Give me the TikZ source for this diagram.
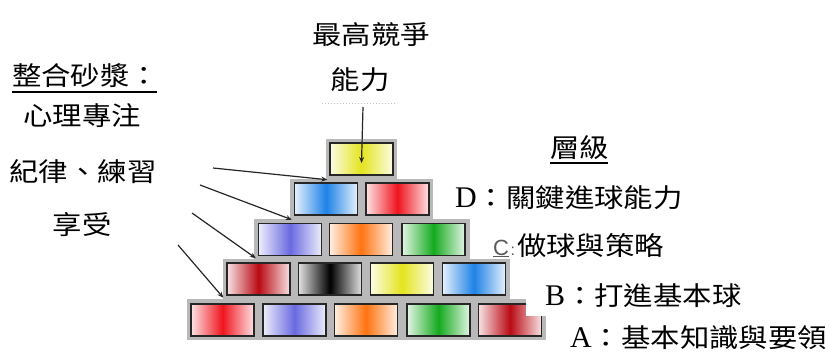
\documentclass[tikz,border=0pt]{standalone}
\usepackage{fontspec}
\setmainfont{Liberation Serif}
\newfontfamily\cjk[FakeStretch=1.13]{Noto Sans CJK TC}
\newfontfamily\sanslat{Liberation Sans}
\usetikzlibrary{arrows.meta}
\newcommand{\lat}[1]{{\fontsize{30}{30}\selectfont\rmfamily #1}}
\definecolor{byel}{RGB}{228,228,30}
\definecolor{bblue}{RGB}{30,130,230}
\definecolor{bred}{RGB}{240,20,30}
\definecolor{bperi}{RGB}{105,105,225}
\definecolor{borange}{RGB}{255,115,15}
\definecolor{bgreen}{RGB}{20,170,30}
\definecolor{bdred}{RGB}{185,10,20}
\definecolor{bblack}{RGB}{0,0,0}
\definecolor{mortar}{RGB}{185,185,185}
\tikzset{
  brick/.style={draw=black!85, line width=1.4pt, minimum width=63pt, minimum height=32pt, inner sep=0pt,
    left color=#1!12, right color=#1!12, middle color=#1},
  lbl/.style={inner sep=0pt, font=\fontsize{26}{30}\selectfont\cjk, text height=23pt, text depth=3pt},
  arr/.style={draw=black!85, line width=1.2pt, -{Stealth[length=6pt,width=5pt]}},
  uline/.style={draw=black, line width=1.4pt},
}
\begin{document}
\begin{tikzpicture}[x=1pt,y=-1pt]
\useasboundingbox (0,0) rectangle (829,353);
% mortar
\fill[mortar] (326,139) rectangle (397,179);
\fill[mortar] (290,179) rectangle (433,219);
\fill[mortar] (254,219) rectangle (470,259);
\fill[mortar] (223,259) rectangle (510,299);
\fill[mortar] (187,299) rectangle (546,340);
% bricks
\node[brick=byel] (r1b1) at (361.5,159) {};
\node[brick=bblue] (r2b1) at (326,199) {};
\node[brick=bred] (r2b2) at (397.5,199) {};
\node[brick=bperi] (r3b1) at (290,239.5) {};
\node[brick=borange] (r3b2) at (361,239.5) {};
\node[brick=bgreen] (r3b3) at (433.5,239.5) {};
\node[brick=bdred] (r4b1) at (258.5,279) {};
\node[brick=bblack] (r4b2) at (330,279) {};
\node[brick=byel] (r4b3) at (402,279) {};
\node[brick=bblue] (r4b4) at (474,279) {};
\node[brick=bred] (r5b1) at (222.5,320) {};
\node[brick=bperi] (r5b2) at (294.5,320) {};
\node[brick=borange] (r5b3) at (366,320) {};
\node[brick=bgreen] (r5b4) at (438.5,320) {};
\node[brick=bdred] (r5b5) at (510,320) {};
% white label patch
\fill[white] (526,270) rectangle (829,316);
% faint mark
\draw[black!25, line width=1pt, dotted] (322,103) -- (397,103);
% arrows
\coordinate (s0) at (363,107);
\coordinate (s1) at (213,168);
\coordinate (s2) at (200,185);
\coordinate (s3) at (192,213);
\coordinate (s4) at (178,245);
\draw[arr] (s0) -- ([yshift=-4pt]r1b1.center);
\draw[arr] (s1) -- ([xshift=-2pt,yshift=-4pt]r1b1.south west);
\draw[arr] (s2) -- ([xshift=-2pt,yshift=-4pt]r2b1.south west);
\draw[arr] (s3) -- ([xshift=-2pt,yshift=-2pt]r3b1.south west);
\draw[arr] (s4) -- ([xshift=-3pt,yshift=-2pt]r4b1.south west);
% texts
\node[lbl] (t1) at (371,35) {最高競爭};
\node[lbl] (t2) at (360,79) {能力};
\node[lbl,anchor=west] (t3) at (12,75) {整合砂漿：};
\draw[uline] (12,92) -- (157,92);
\node[lbl] (t4) at (82,115) {心理專注};
\node[lbl] (t5) at (83,171) {紀律、練習};
\node[lbl] (t6) at (82,224) {享受};
\node[lbl,anchor=west] (t7) at (550,147) {層級};
\draw[uline] (550,163) -- (608,163);
\node[lbl,anchor=west] (t8) at (455,197) {\lat{D}：關鍵進球能力};
\node[lbl,anchor=west] (t9) at (493,245) {{\fontsize{22}{22}\selectfont\sanslat\color{black!65}\underline{C}\hspace{1.5pt}{\fontsize{16}{16}\selectfont:}\hspace{2pt}}做球與策略};
\node[lbl,anchor=west] (t10) at (545,295) {\lat{B}：打進基本球};
\node[lbl,anchor=west] (t11) at (570,337) {\lat{A}：基本知識與要領};
\end{tikzpicture}
\end{document}
